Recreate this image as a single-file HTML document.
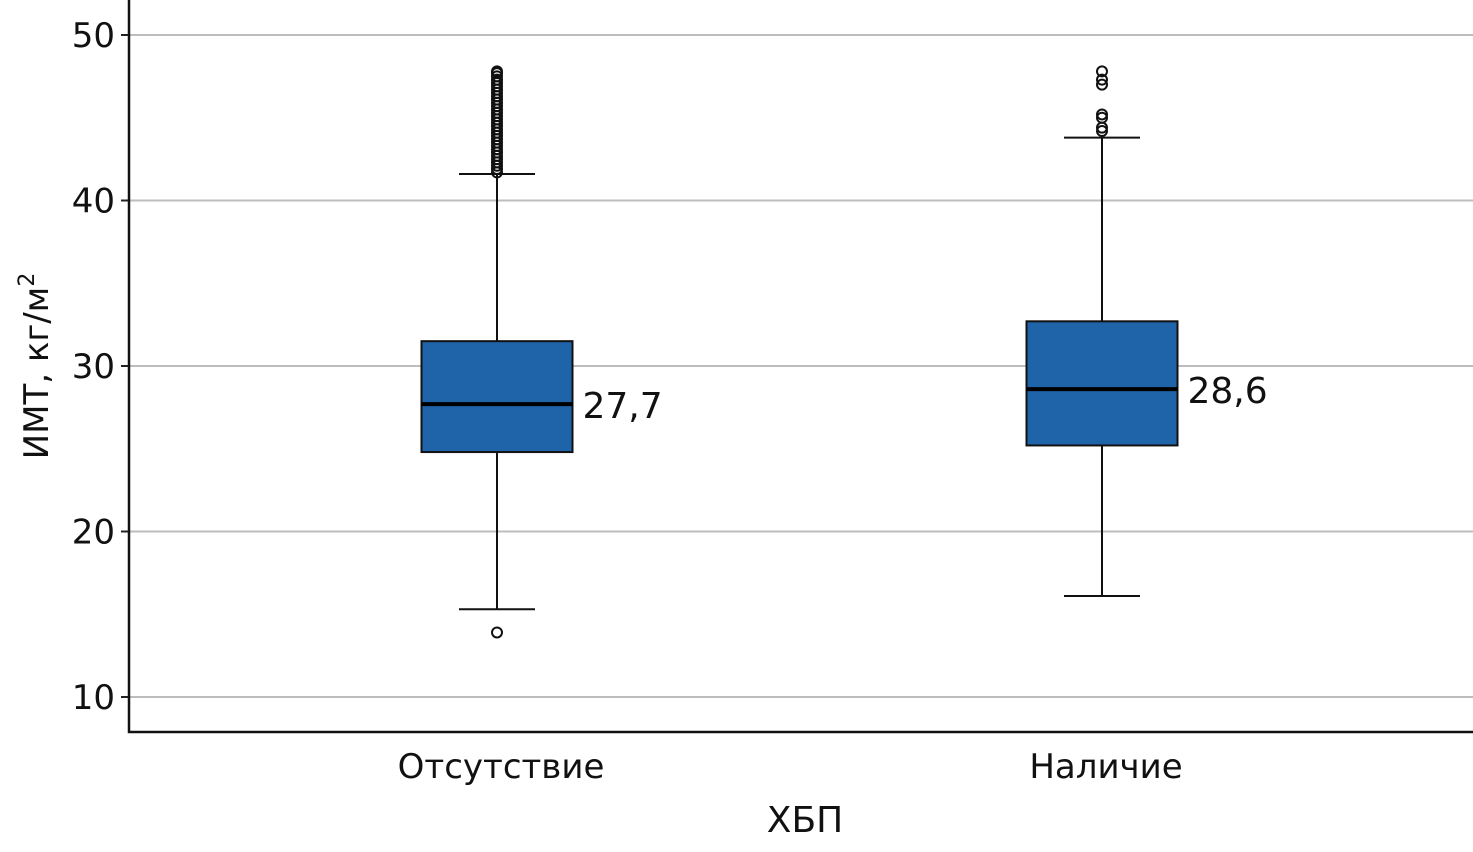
<!DOCTYPE html>
<html><head><meta charset="utf-8"><style>
html,body{margin:0;padding:0;background:#fff;width:1473px;height:852px;overflow:hidden}
svg{display:block}
text{font-family:"DejaVu Sans","Liberation Sans",sans-serif;fill:#111}
</style></head><body>
<svg id="chart" width="1473" height="852"></svg>
<script>
const categories = ["Отсутствие", "Наличие"];
const q1Values = [24.8, 25.2];
const medianValues = [27.7, 28.6];
const q3Values = [31.5, 32.7];
const whiskerLow = [15.3, 16.1];
const whiskerHigh = [41.6, 43.8];
const medianLabels = ["27,7", "28,6"];
const outliers0 = [13.9,41.7,41.9,42.1,42.3,42.5,42.7,42.9,43.1,43.3,43.5,43.7,43.9,44.1,44.3,44.5,44.7,44.9,45.1,45.3,45.5,45.7,45.9,46.1,46.3,46.5,46.7,46.9,47.1,47.3,47.5,47.7,47.8];
const outliers1 = [44.2,44.4,45.0,45.2,47.0,47.3,47.8];
const yTicks = [10, 20, 30, 40, 50];

const NS = "http://www.w3.org/2000/svg";
const svg = document.getElementById("chart");
const X0 = 129, X1 = 1473, Ytop = 0, Ybot = 732;
const y = v => 35 + (50 - v) * 16.55;
const cx = i => 497 + i * 605;
const BW = 151;
function mk(tag, attrs, parent) {
  const e = document.createElementNS(NS, tag);
  for (const k in attrs) e.setAttribute(k, attrs[k]);
  (parent || svg).appendChild(e);
  return e;
}
yTicks.forEach(t => {
  const g = mk("line", {x1: X0, x2: X1, y1: y(t), y2: y(t), stroke: "#bdbdbd", "stroke-width": 2});
  
  
  const tk = mk("line", {x1: X0 - 8, x2: X0, y1: y(t), y2: y(t), stroke: "#222", "stroke-width": 2});
  
  
  const lb = mk("text", {x: 115, y: y(t) + 12, "text-anchor": "end", "font-size": 34});
  lb.textContent = t;
  
  
});
const ax = mk("path", {d: `M${X0} 0 V${Ybot} H${X1}`, fill: "none", stroke: "#111", "stroke-width": 2.5});



categories.forEach((c, i) => {
  const x = cx(i);
  const g = mk("g", {});
  
  
  mk("line", {x1: x, x2: x, y1: y(whiskerHigh[i]), y2: y(q3Values[i]), stroke: "#111", "stroke-width": 2}, g);
  mk("line", {x1: x, x2: x, y1: y(q1Values[i]), y2: y(whiskerLow[i]), stroke: "#111", "stroke-width": 2}, g);
  mk("line", {x1: x - 38, x2: x + 38, y1: y(whiskerHigh[i]), y2: y(whiskerHigh[i]), stroke: "#111", "stroke-width": 2}, g);
  mk("line", {x1: x - 38, x2: x + 38, y1: y(whiskerLow[i]), y2: y(whiskerLow[i]), stroke: "#111", "stroke-width": 2}, g);
  mk("rect", {x: x - BW / 2, y: y(q3Values[i]), width: BW, height: y(q1Values[i]) - y(q3Values[i]), fill: "#1f63a8", stroke: "#111", "stroke-width": 2}, g);
  mk("line", {x1: x - BW / 2, x2: x + BW / 2, y1: y(medianValues[i]), y2: y(medianValues[i]), stroke: "#000", "stroke-width": 4}, g);
  const ml = mk("text", {x: x + BW / 2 + 10, y: y(medianValues[i]) + 14, "font-size": 36});
  ml.textContent = medianLabels[i];
  
  
  (i === 0 ? outliers0 : outliers1).forEach(v => {
    const o = mk("circle", {cx: x, cy: y(v), r: 5, fill: "none", stroke: "#111", "stroke-width": 2});
    
    
  });
  const cl = mk("text", {x: x + 4, y: 778, "text-anchor": "middle", "font-size": 34});
  cl.textContent = c;
  
  
});
const xt = mk("text", {x: 805, y: 832, "text-anchor": "middle", "font-size": 36});
xt.textContent = "ХБП";


const yt = mk("text", {x: 0, y: 0, "text-anchor": "middle", "font-size": 34, transform: "translate(48 366) rotate(-90)"});
yt.innerHTML = 'ИМТ, кг/м<tspan dy="-14" font-size="22">2</tspan>';


</script>
</body></html>
